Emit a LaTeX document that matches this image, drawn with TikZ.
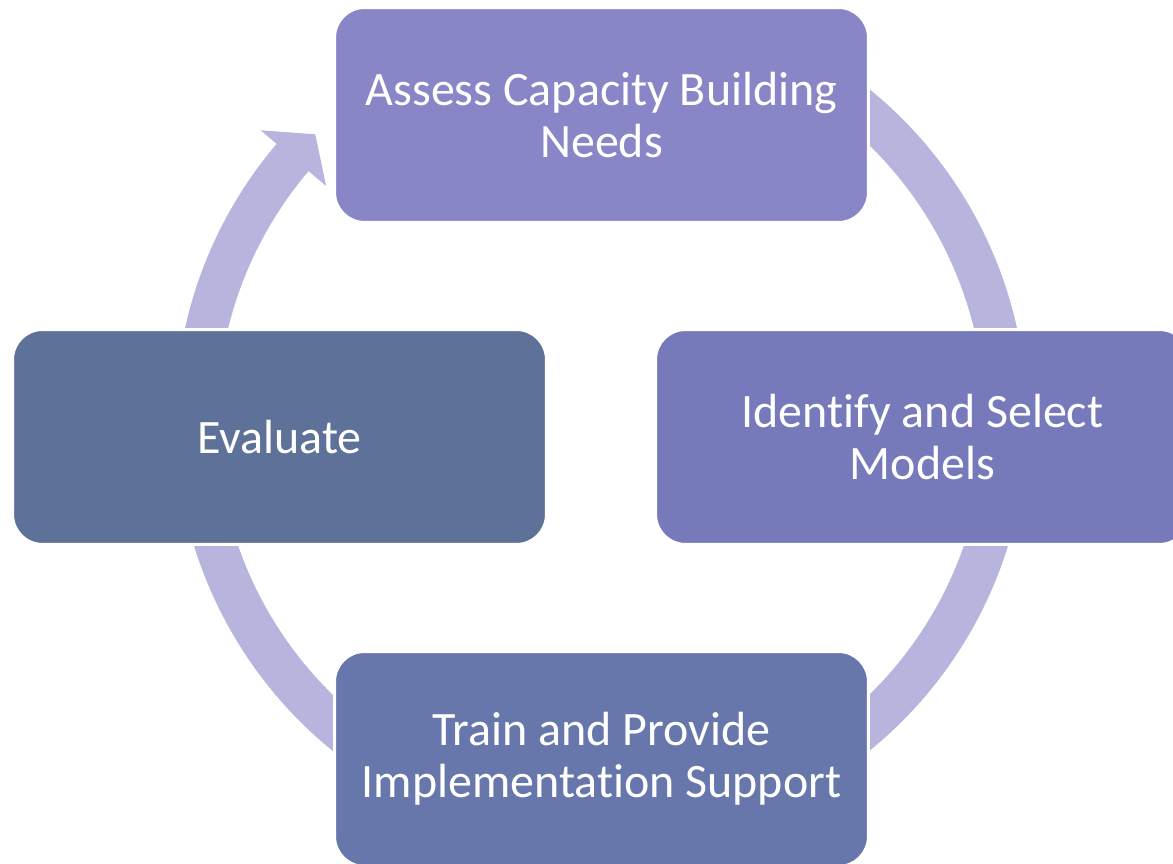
\documentclass[tikz,border=0pt]{standalone}
\usepackage{fontspec}
\setmainfont{Carlito}[Ligatures=NoCommon]
\usepackage{tikz}
\usetikzlibrary{math}
\definecolor{assesscol}{RGB}{136,134,198}
\definecolor{modelscol}{RGB}{118,122,186}
\definecolor{traincol}{RGB}{104,119,171}
\definecolor{evalcol}{RGB}{94,114,153}
\definecolor{anneaucol}{RGB}{183,181,221}
\tikzset{
  etape/.style={rounded corners=0.6cm, draw=white, line width=0.06cm,
    minimum width=10.68cm, minimum height=4.3cm, inner sep=0pt,
    text=white, align=center, font=\fontsize{27.3}{29.6}\selectfont},
  anneau/.style={fill=anneaucol},
}
\begin{document}
\begin{tikzpicture}[x=0.02cm,y=0.02cm]
            \tikzmath{\rext = 426; \rint = 384;}
            \path[use as bounding box] (0,0) rectangle (1173,864);
            \clip (0,0) rectangle (1173,864);
            \coordinate (O) at (601,444);
            \begin{scope}[shift={(O)}]
                \foreach \s in {60,0,-120} {
                    \fill[anneau] (\s:\rext) arc[start angle=\s, delta angle=-60, radius=\rext]
                        -- ({\s-60}:\rint) arc[start angle={\s-60}, delta angle=60, radius=\rint] -- cycle;
                }
                \fill[anneau] (180:\rext) arc[start angle=180, end angle=139.6, radius=\rext]
                    -- (139.6:447) -- (135:404) -- (139.6:361)
                    -- (139.6:\rint) arc[start angle=139.6, end angle=180, radius=\rint] -- cycle;
            \end{scope}
            \node[etape, fill=assesscol] (assess) at (601.5,749) {Assess Capacity Building\\Needs};
            \node[etape, fill=modelscol] (models) at (922.5,427) {Identify and Select\\Models};
            \node[etape, fill=traincol] (train) at (601.5,105) {Train and Provide\\Implementation Support};
            \node[etape, fill=evalcol] (evaluate) at (279.5,427) {Evaluate};
        \end{tikzpicture}
\end{document}
